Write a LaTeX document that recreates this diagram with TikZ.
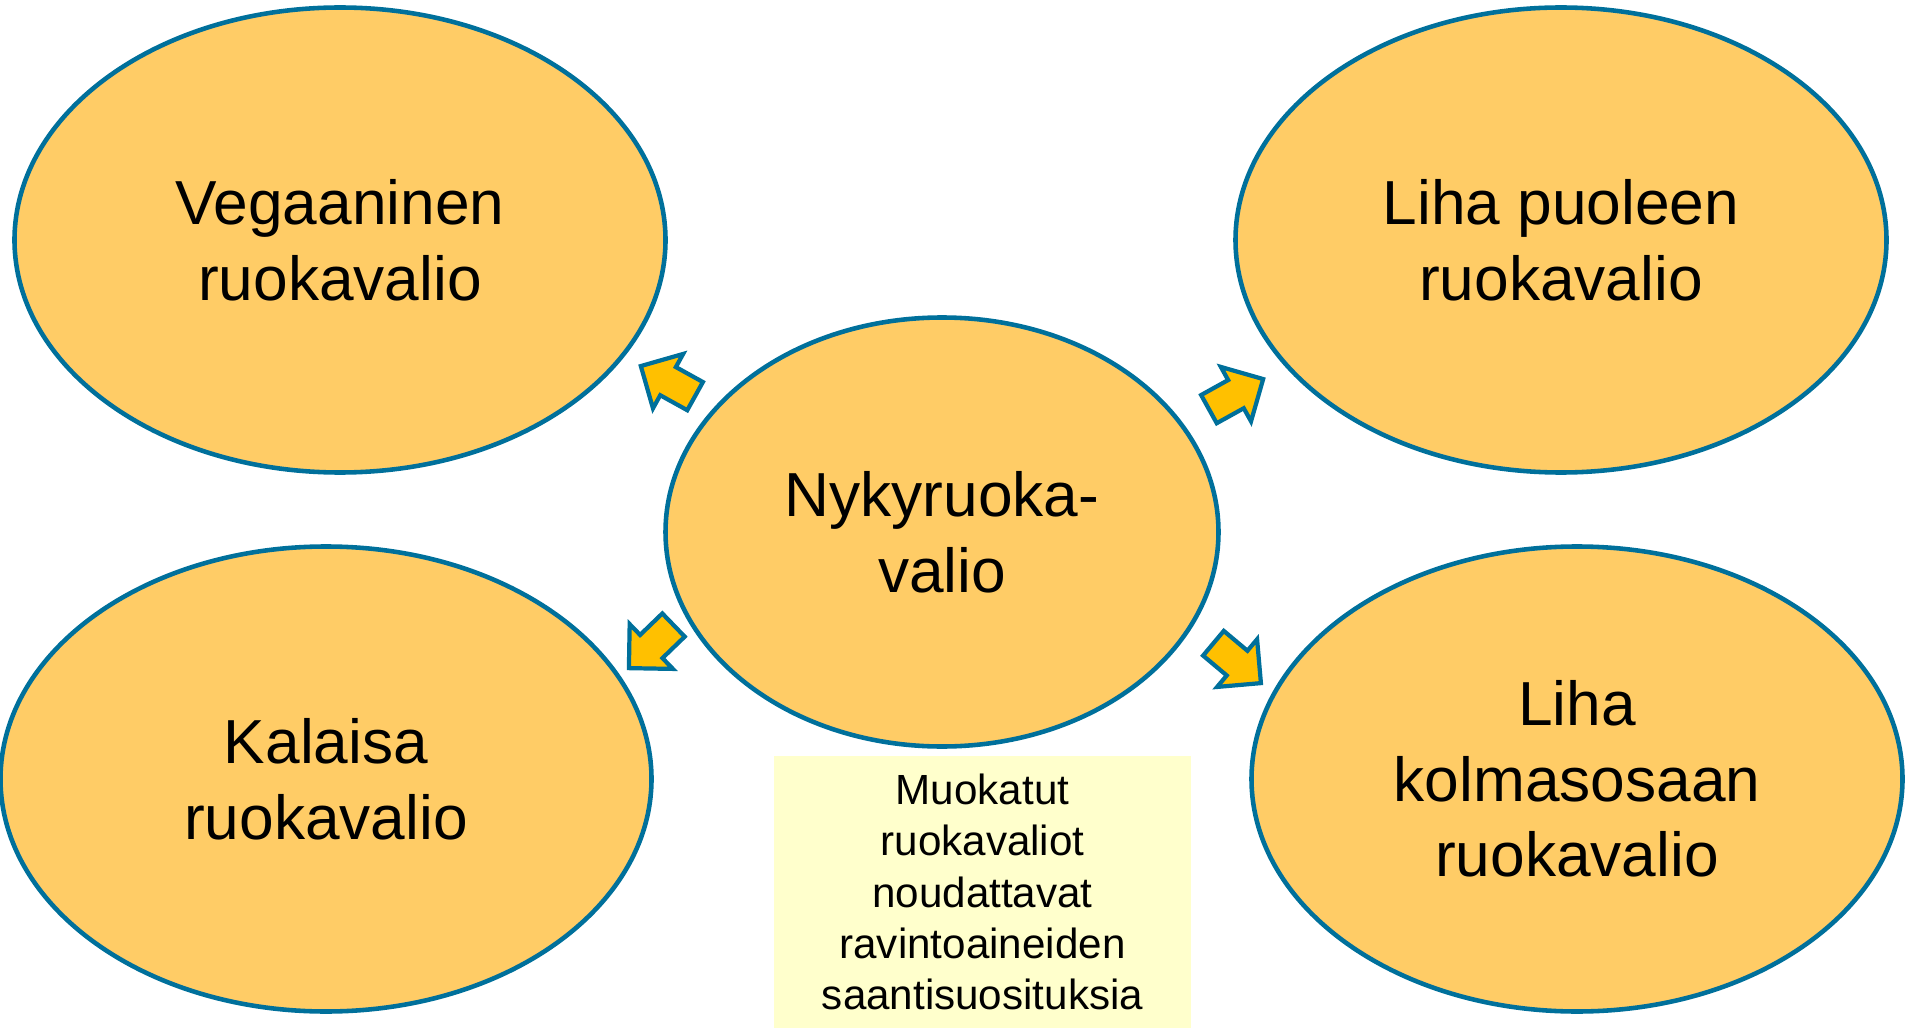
\documentclass[tikz,border=0pt]{standalone}
\usepackage{fontspec}
\setmainfont{Liberation Sans}
\usetikzlibrary{shapes.geometric, shapes.arrows, positioning}

\definecolor{dietfill}{RGB}{255,204,102}
\definecolor{dietline}{RGB}{0,112,155}
\definecolor{arrowfill}{RGB}{255,192,0}
\definecolor{notefill}{RGB}{255,255,204}

\begin{document}
\begin{tikzpicture}[
    x=1cm, y=1cm,
    % Styles
    diet/.style={
        draw=dietline, fill=dietfill, ellipse, line width=1.3pt,
        inner sep=0pt, align=center,
        font=\fontsize{17.7}{21.5}\selectfont
    },
    outer/.style={diet, minimum width=6.51cm, minimum height=4.65cm},
    blockarrow/.style={
        draw=dietline, fill=arrowfill, single arrow, line width=1.2pt,
        inner sep=0.14cm, minimum width=0.58cm, minimum height=0.62cm,
        single arrow head extend=0.15cm
    },
    note/.style={
        fill=notefill, align=center, inner sep=0pt,
        font=\fontsize{12}{14.6}\selectfont
    }
]
    \useasboundingbox (0,0) rectangle (19.05,-10.28);

    % --- Current diet ---
    \node[diet, minimum width=5.53cm, minimum height=4.29cm] (now) at (9.42,-5.32) {Nykyruoka-\\valio};

    % --- Modified diets ---
    \node[outer] (vegan) at (3.40,-2.40) {Vegaaninen\\ruokavalio};
    \node[outer] (half)  at (15.61,-2.40) {Liha puoleen\\ruokavalio};
    \node[outer] (fish)  at (3.26,-7.79) {Kalaisa\\ruokavalio};
    \node[outer] (third) at (15.77,-7.79) {Liha\\kolmasosaan\\ruokavalio};

    % --- Arrows ---
    \node[blockarrow, rotate=151] (tovegan) at (6.75,-3.85) {};
    \node[blockarrow, rotate=29]  (tohalf)  at (12.29,-3.98) {};
    \node[blockarrow, rotate=224] (tofish)  at (6.57,-6.41) {};
    \node[blockarrow, rotate=-40] (tothird) at (12.31,-6.58) {};

    % --- Note ---
    \node[note, minimum width=4.17cm, minimum height=2.72cm] (remark) at (9.825,-8.92)
        {Muokatut\\ruokavaliot\\noudattavat\\ravintoaineiden\\saantisuosituksia};

\end{tikzpicture}
\end{document}
